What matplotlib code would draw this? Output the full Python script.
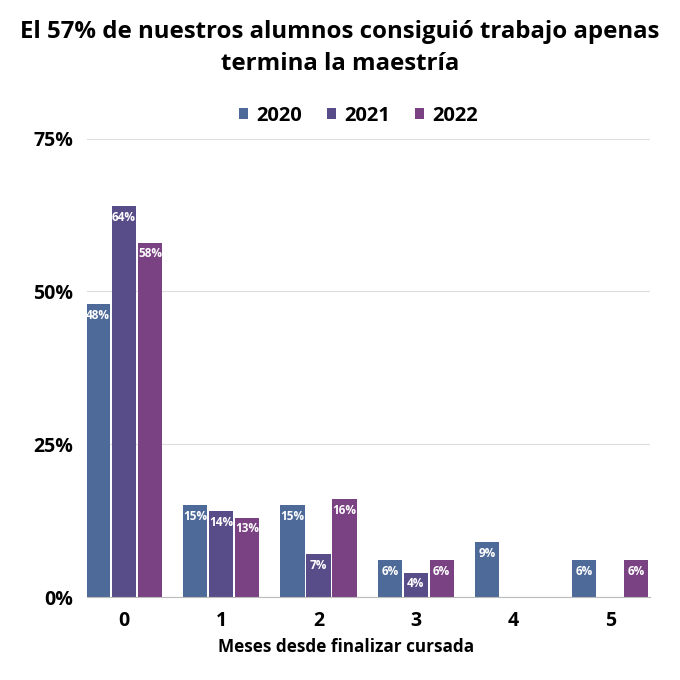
import matplotlib
matplotlib.use("Agg")
import matplotlib.pyplot as plt
import numpy as np

categories = ["0", "1", "2", "3", "4", "5"]
years = ["2020", "2021", "2022"]
v2020 = [48, 15, 15, 6, 9, 6]
v2021 = [64, 14, 7, 4, 0, 0]
v2022 = [58, 13, 16, 6, 0, 6]
series = [v2020, v2021, v2022]
colors = ["#4E6A99", "#594D89", "#7A4282"]

plt.rcParams['font.family'] = ['Open Sans', 'DejaVu Sans']

fig = plt.figure(figsize=(6.8, 6.8), dpi=100)
ax = fig.add_axes([0.128, 0.122, 0.828, 0.674])

x = np.arange(len(categories))
w = 0.25
offs = [-0.267, 0.0, 0.267]
for vals, off, c, yr in zip(series, offs, colors, years):
    ax.bar(x + off, vals, width=w, color=c, label=yr, zorder=3)
    for xi, v in zip(x, vals):
        if v > 0:
            ax.text(xi + off, v - 0.8, f"{v}%", ha="center", va="top",
                    color="white", fontsize=8.5, fontweight="bold", zorder=4)

ax.set_xlim(-0.38, 5.41)
ax.set_ylim(0, 75)
ax.set_yticks([0, 25, 50, 75])
ax.set_yticklabels(["0%", "25%", "50%", "75%"])
ax.set_xticks(x)
ax.set_xticklabels(categories)
ax.tick_params(axis="both", length=0, labelsize=14)
for lab in ax.get_xticklabels() + ax.get_yticklabels():
    lab.set_fontweight("bold")
ax.tick_params(axis="y", pad=10)
ax.tick_params(axis="x", pad=10)
ax.grid(axis="y", color="#DDDDDD", linewidth=0.8, zorder=0)
for s in ["top", "right", "left"]:
    ax.spines[s].set_visible(False)
ax.spines["bottom"].set_color("#BBBBBB")
ax.spines["bottom"].set_zorder(5)

fig.text(346 / 680, 1 - 647 / 680, "Meses desde finalizar cursada", ha="center", va="center",
         fontsize=12.3, fontweight="bold")

fig.text(0.5, 0.97, "El 57% de nuestros alumnos consiguió trabajo apenas\ntermina la maestría",
         ha="center", va="top", fontsize=17.3, fontweight="bold", linespacing=1.45)

fig.legend(loc="center", bbox_to_anchor=(0.527, 1 - 116 / 680), ncol=3, frameon=False,
           handlelength=0.45, handleheight=0.45, handletextpad=0.4, columnspacing=1.25,
           prop={"weight": "bold", "size": 14.5})

fig.savefig("out.png", dpi=100, facecolor="white")
